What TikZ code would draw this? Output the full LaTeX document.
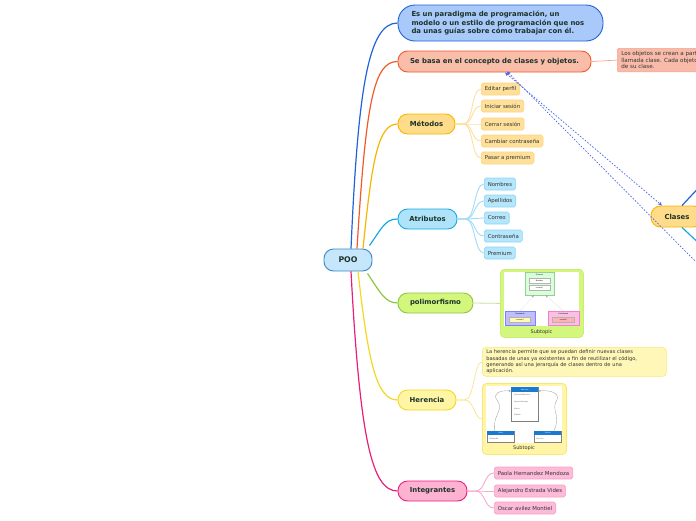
\documentclass[tikz,border=0pt]{standalone}
\usepackage{fontspec}
\setmainfont{DejaVu Sans}
\usetikzlibrary{arrows.meta}
\definecolor{maintxt}{HTML}{1B3328}
\definecolor{pooFill}{HTML}{C6E7FB}\definecolor{pooDraw}{HTML}{3A87C8}
\definecolor{topFill}{HTML}{A9C9FB}\definecolor{topDraw}{HTML}{1F63D6}
\definecolor{sebFill}{HTML}{F9BDA9}\definecolor{sebDraw}{HTML}{F1592A}
\definecolor{stkFill}{HTML}{F9BBA9}\definecolor{stkDraw}{HTML}{F2A58E}
\definecolor{metFill}{HTML}{FFDC8A}\definecolor{metDraw}{HTML}{F7B500}
\definecolor{metCFill}{HTML}{FEE09A}\definecolor{metCDraw}{HTML}{FDD37F}\definecolor{metLine}{HTML}{FDE0A0}
\definecolor{atrFill}{HTML}{AEE3FA}\definecolor{atrDraw}{HTML}{17A9E1}
\definecolor{atrCFill}{HTML}{B6E6FB}\definecolor{atrCDraw}{HTML}{8AD6F5}\definecolor{atrLine}{HTML}{9FDCF7}
\definecolor{polFill}{HTML}{D3F67C}\definecolor{polDraw}{HTML}{8DC63F}\definecolor{polLine}{HTML}{C8E0A0}
\definecolor{herFill}{HTML}{FFF5A5}\definecolor{herDraw}{HTML}{F2D81E}\definecolor{herLine}{HTML}{F8E488}
\definecolor{intFill}{HTML}{FDB2D2}\definecolor{intDraw}{HTML}{E91E7A}
\definecolor{intCFill}{HTML}{FDBBD9}\definecolor{intCDraw}{HTML}{F8A0C8}\definecolor{intLine}{HTML}{F9A9CC}
\definecolor{dashBlue}{HTML}{4A66E8}
\definecolor{umlBlue}{HTML}{1A7AD0}
\begin{document}
\begin{tikzpicture}[x=1pt,y=-1pt,
  mainbox/.style={draw, line width=0.9pt, rounded corners=9.5pt, text=maintxt,
    font=\bfseries\fontsize{6.9}{8.2}\selectfont, minimum height=20pt, inner sep=2pt},
  childbox/.style={draw, line width=0.6pt, rounded corners=1.8pt, anchor=west,
    font=\fontsize{5.4}{6}\selectfont, text=black!80, minimum height=12pt, inner xsep=3.5pt, inner ysep=1pt},
  mainline/.style={line width=1.2pt},
  subline/.style={line width=0.9pt},
  dashline/.style={dashBlue, line width=0.7pt, dash pattern=on 1.6pt off 1.6pt},
  tiny/.style={font=\fontsize{1.8}{2}\selectfont, inner sep=0pt},
]
\useasboundingbox (0,0) rectangle (696,520);
\clip (0,0) rectangle (696,520);

% ---------- main nodes ----------
\node[mainbox, fill=pooFill, draw=pooDraw, minimum width=48pt, minimum height=22pt,
  font=\bfseries\fontsize{7.8}{9}\selectfont] (poo) at (348,260) {POO};
\node[mainbox, fill=topFill, draw=topDraw, minimum width=205pt, minimum height=36pt,
  rounded corners=17pt, align=left, text width=178pt] (top) at (500.5,23)
  {Es un paradigma de programación, un\\modelo o un estilo de programación que nos\\da unas guías sobre cómo trabajar con él.};
\node[mainbox, fill=sebFill, draw=sebDraw, minimum width=193pt, minimum height=21pt] (seb) at (494.5,61.5)
  {Se basa en el concepto de clases y objetos.};
\node[draw=stkDraw, fill=stkFill, line width=0.6pt, rounded corners=2pt, anchor=north west,
  align=left, font=\fontsize{5.6}{6.6}\selectfont, text=black!80, inner xsep=4pt, inner ysep=3pt] (stk) at (617,48)
  {Los objetos se crean a partir de una plantilla\\llamada clase. Cada objeto es una instancia\\de su clase.};
\node[mainbox, fill=metFill, draw=metDraw, minimum width=57pt] (met) at (426.5,124) {Métodos};
\node[mainbox, fill=atrFill, draw=atrDraw, minimum width=59pt] (atr) at (427.5,219) {Atributos};
\node[mainbox, fill=polFill, draw=polDraw, minimum width=75pt] (pol) at (435.5,303) {polimorfismo};
\node[mainbox, fill=herFill, draw=herDraw, minimum width=58pt] (her) at (427,400) {Herencia};
\node[mainbox, fill=intFill, draw=intDraw, minimum width=69pt] (int) at (432.5,491) {Integrantes};
\node[mainbox, fill=metFill, draw=metDraw, minimum width=52pt, minimum height=21pt] (cla) at (677,216.5) {Clases};

% ---------- main connectors ----------
\draw[mainline, topDraw] ([xshift=3pt]poo.north) .. controls (358,90) and (368,23) .. (top.west);
\draw[mainline, sebDraw] ([xshift=9pt]poo.north) .. controls (366,100) and (374,61.5) .. (seb.west);
\draw[mainline, metDraw] ([xshift=15pt]poo.north) .. controls (372,160) and (378,124) .. (met.west);
\draw[mainline, atrDraw] ([xshift=-3pt,yshift=3pt]poo.north east) .. controls (382,228) and (385,219) .. (atr.west);
\draw[mainline, polDraw] ([xshift=-5pt,yshift=-2pt]poo.south east) .. controls (380,292) and (385,303) .. (pol.west);
\draw[mainline, herDraw] ([xshift=10pt]poo.south) .. controls (368,360) and (376,400) .. (her.west);
\draw[mainline, intDraw] ([xshift=3pt]poo.south) .. controls (360,440) and (372,491) .. (int.west);

\draw[line width=0.7pt, stkDraw] (seb.east) -- (stk.west);

% ---------- Métodos children ----------
\node[childbox, fill=metCFill, draw=metCDraw] (m1) at (481,89) {Editar perfil};
\node[childbox, fill=metCFill, draw=metCDraw] (m2) at (481,106) {Iniciar sesión};
\node[childbox, fill=metCFill, draw=metCDraw] (m3) at (481,124) {Cerrar sesión};
\node[childbox, fill=metCFill, draw=metCDraw] (m4) at (481,141) {Cambiar contraseña};
\node[childbox, fill=metCFill, draw=metCDraw] (m5) at (481,158) {Pasar a premium};
\foreach \c in {m1,m2,m3,m4,m5}
  \draw[subline, metLine] (met.east) -- ++(8,0) .. controls +(10,0) and +(-10,0) .. (\c.west);

% ---------- Atributos children ----------
\node[childbox, fill=atrCFill, draw=atrCDraw] (a1) at (484,184) {Nombres};
\node[childbox, fill=atrCFill, draw=atrCDraw] (a2) at (484,201) {Apellidos};
\node[childbox, fill=atrCFill, draw=atrCDraw] (a3) at (484,218) {Correo};
\node[childbox, fill=atrCFill, draw=atrCDraw] (a4) at (484,236) {Contraseña};
\node[childbox, fill=atrCFill, draw=atrCDraw] (a5) at (484,253) {Premium};
\foreach \c in {a1,a2,a3,a4,a5}
  \draw[subline, atrLine] (atr.east) -- ++(8,0) .. controls +(10,0) and +(-10,0) .. (\c.west);

% ---------- polimorfismo image ----------
\node[draw=polFill!80!black!20!polFill, fill=polFill, line width=0.8pt, rounded corners=4pt,
  minimum width=83pt, minimum height=68pt, anchor=north west] (polimg) at (500,269) {};
\node[fill=white, minimum width=75pt, minimum height=54pt, anchor=north west, inner sep=0pt] (polwh) at (504,272) {};
\node[font=\fontsize{5}{5.5}\selectfont, text=black!80, inner sep=0pt] (polsub) at (541.5,332) {Subtopic};
\draw[line width=0.8pt, polLine] (pol.east) -- (polimg.west);
% UML
\node[draw=green!50!black!40, fill=green!15, minimum width=29pt, minimum height=23pt, anchor=north west, inner sep=0pt] (pA) at (525,272) {};
\node[tiny] (pAt) at (539.5,275) {Persona};
\node[draw=black!30, fill=white, minimum width=21pt, minimum height=5pt, inner sep=0pt, tiny] (pA1) at (539.5,280.5) {Nombre};
\node[draw=black!30, fill=white, minimum width=21pt, minimum height=5pt, inner sep=0pt, tiny] (pA2) at (539.5,287.5) {correo()};
\node[draw=blue!50, fill=blue!25, minimum width=30pt, minimum height=14pt, anchor=north west, inner sep=0pt] (pB) at (505,311) {};
\node[tiny] (pBt) at (520,314) {Empleado};
\node[draw=black!30, fill=yellow!30, minimum width=21pt, minimum height=5pt, inner sep=0pt, tiny] (pB1) at (520,319.5) {correo()};
\node[draw=magenta!50, fill=magenta!25, minimum width=31pt, minimum height=14pt, anchor=north west, inner sep=0pt] (pC) at (548,311) {};
\node[tiny] (pCt) at (563.5,314) {Estudiante};
\node[draw=black!30, fill=red!30, minimum width=22pt, minimum height=5pt, inner sep=0pt, tiny] (pC1) at (563.5,319.5) {correo()};
\draw[black!40, line width=0.3pt, densely dotted, -{Triangle[open, length=2pt, width=2pt]}] (pB.north) -- ([xshift=-6pt]pA.south);
\draw[black!40, line width=0.3pt, densely dotted, -{Triangle[open, length=2pt, width=2pt]}] (pC.north) -- ([xshift=6pt]pA.south);

% ---------- Herencia ----------
\node[draw=herDraw!60, fill=herFill!80!white, line width=0.6pt, rounded corners=4pt, anchor=north west,
  align=left, font=\fontsize{5.1}{6.4}\selectfont, text=black!80, text width=176pt, inner xsep=4pt, inner ysep=2.5pt] (hnote) at (482,347)
  {La herencia permite que se puedan definir nuevas clases\\basadas de unas ya existentes a fin de reutilizar el código,\\generando así una jerarquía de clases dentro de una\\aplicación.};
\node[draw=herDraw!60, fill=herFill, line width=0.8pt, rounded corners=4pt,
  minimum width=84pt, minimum height=71pt, anchor=north west] (herimg) at (482,383) {};
\node[fill=white, minimum width=76pt, minimum height=57pt, anchor=north west, inner sep=0pt] (herwh) at (486,386) {};
\node[font=\fontsize{5}{5.5}\selectfont, text=black!80, inner sep=0pt] (hersub) at (524,448) {Subtopic};
\draw[line width=0.7pt, herLine] (her.east) -- ++(8,0) .. controls +(10,0) and +(-8,0) .. (hnote.west);
\draw[line width=0.7pt, herLine] (her.east) -- ++(8,0) .. controls +(10,0) and +(-8,0) .. (herimg.west);
% UML
\node[draw=black!50, fill=white, minimum width=27pt, minimum height=34pt, anchor=north west, inner sep=0pt] (hV) at (511,387) {};
\node[fill=umlBlue, minimum width=27pt, minimum height=4.5pt, anchor=north west, inner sep=0pt, tiny, text=white] (hVt) at (511,387) {Vehículo};
\node[tiny, anchor=west, text=black!60] (hV1) at (514,395) {VelocidadMaxima};
\node[tiny, anchor=west, text=black!60] (hV2) at (514,402) {NumeroRuedas};
\node[tiny, anchor=west, text=black!60] (hV3) at (514,408.5) {Marca};
\node[tiny, anchor=west, text=black!60] (hV4) at (514,415) {Modelo};
\node[draw=black!50, fill=white, minimum width=27pt, minimum height=11pt, anchor=north west, inner sep=0pt] (hM) at (487,431) {};
\node[fill=umlBlue, minimum width=27pt, minimum height=4pt, anchor=north west, inner sep=0pt, tiny, text=white] (hMt) at (487,431) {Moto};
\node[tiny, anchor=west, text=black!60] (hM1) at (489,438.5) {Cilindrada};
\node[draw=black!50, fill=white, minimum width=27pt, minimum height=11pt, anchor=north west, inner sep=0pt] (hC) at (534,431) {};
\node[fill=umlBlue, minimum width=27pt, minimum height=4pt, anchor=north west, inner sep=0pt, tiny, text=white] (hCt) at (534,431) {Coche};
\node[tiny, anchor=west, text=black!60] (hC1) at (536,438.5) {Traccion};
\draw[black!40, line width=0.3pt, -{Triangle[open, length=2pt, width=2pt]}] ([xshift=-6pt]hM.north) .. controls (492,415) and (505,410) .. (497,400) .. controls (492,394) and (500,390) .. ([yshift=-4pt]hV.north west);
\draw[black!40, line width=0.3pt, -{Triangle[open, length=2pt, width=2pt]}] ([xshift=6pt]hC.north) .. controls (562,415) and (550,410) .. (557,400) .. controls (560,392) and (548,390) .. ([yshift=-4pt]hV.north east);

% ---------- Integrantes children ----------
\node[childbox, fill=intCFill, draw=intCDraw] (i1) at (494,473) {Paola Hernandez Mendoza};
\node[childbox, fill=intCFill, draw=intCDraw] (i2) at (494,491) {Alejandro Estrada Vides};
\node[childbox, fill=intCFill, draw=intCDraw] (i3) at (494,508) {Oscar avilez Montiel};
\foreach \c in {i1,i2,i3}
  \draw[subline, intLine] (int.east) -- ++(8,0) .. controls +(10,0) and +(-10,0) .. (\c.west);

% ---------- Clases & dashed relations ----------
\coordinate (offB) at (704,270);
\coordinate (cu) at (704,182);
\coordinate (cd) at (704,248);
\draw[mainline, topDraw] ([xshift=5pt]cla.north) -- (cu);
\draw[mainline, atrDraw] ([xshift=5pt]cla.south) -- (cd);
\draw[dashline, {Stealth[length=4pt,width=3.5pt]}-{Stealth[length=4pt,width=3.5pt]}] ([xshift=10.5pt]seb.south) -- ([xshift=-15pt]cla.north);
\draw[dashline, {Stealth[length=4pt,width=3.5pt]}-] ([xshift=12.5pt,yshift=1pt]seb.south) -- (offB);
\end{tikzpicture}
\end{document}
